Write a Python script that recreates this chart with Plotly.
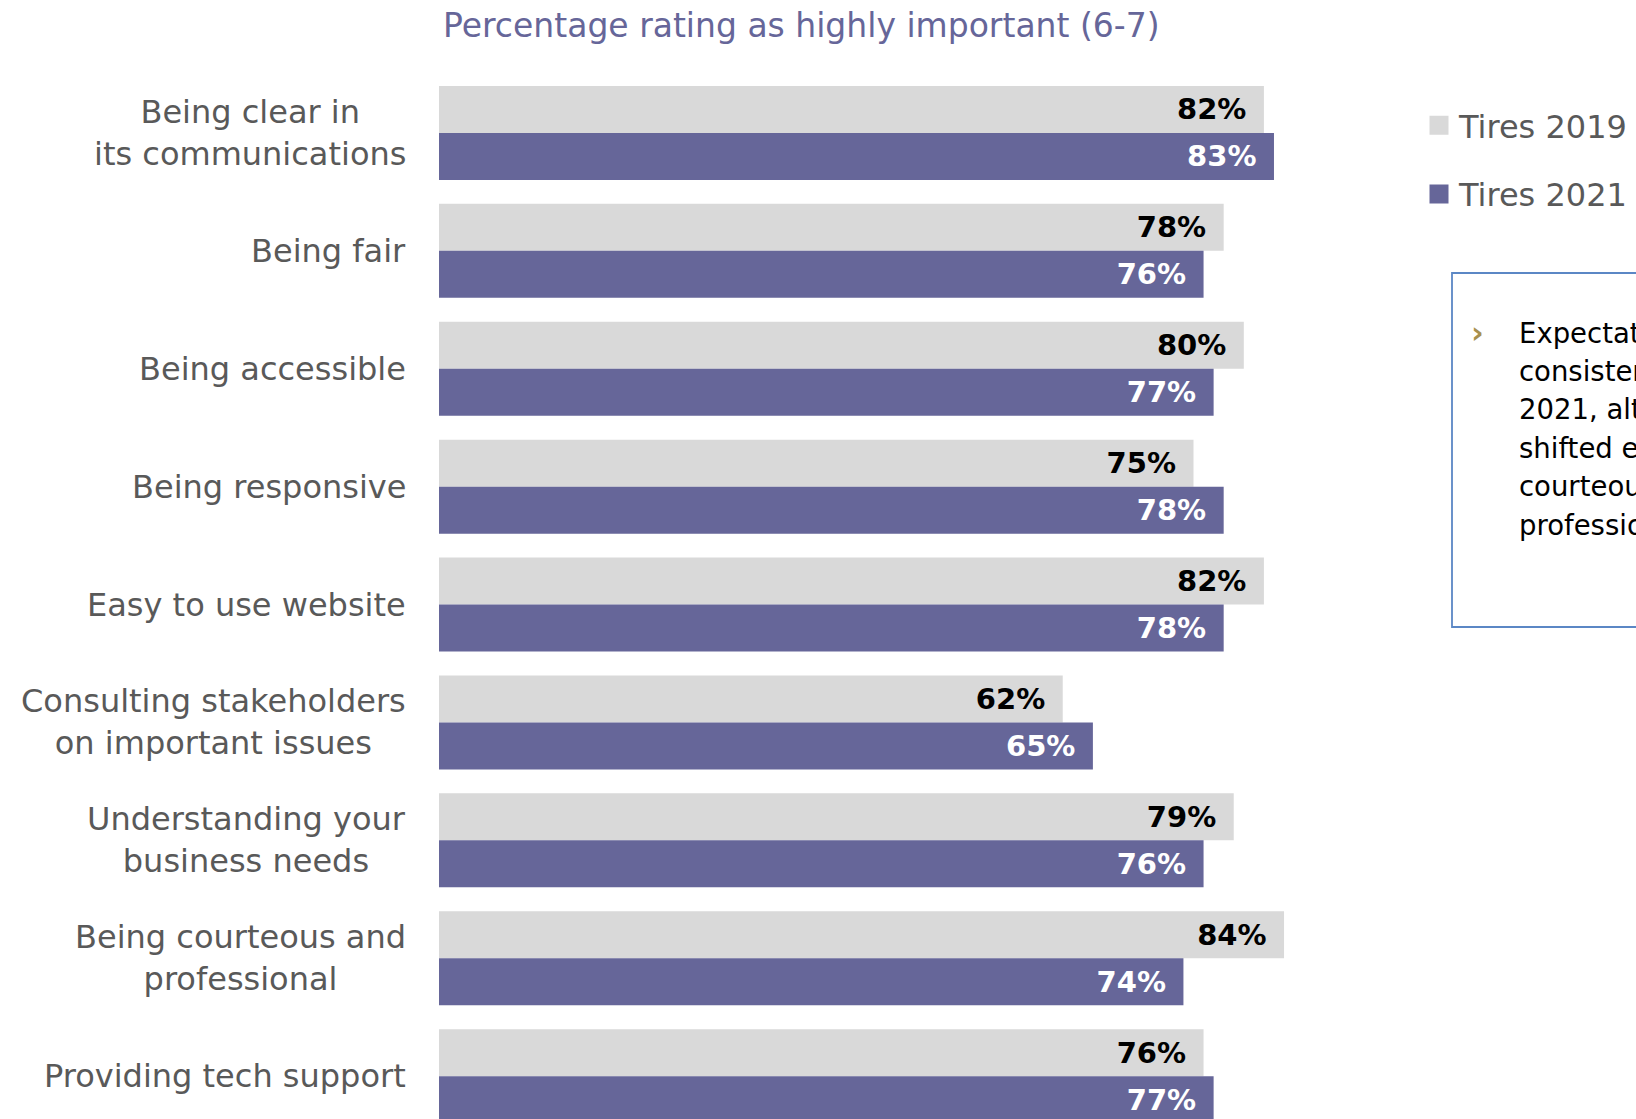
import plotly.graph_objects as go

# ---- data -------------------------------------------------------------
categories = [
    "Being clear in<br>its communications",
    "Being fair",
    "Being accessible",
    "Being responsive",
    "Easy to use website",
    "Consulting stakeholders<br>on important issues",
    "Understanding your<br>business needs",
    "Being courteous and<br>professional",
    "Providing tech support",
]
tires_2019 = [82, 78, 80, 75, 82, 62, 79, 84, 76]
tires_2021 = [83, 76, 77, 78, 78, 65, 76, 74, 77]
series_names = ["Tires 2019", "Tires 2021"]

note_lines = [
    "Expectations for service remained",
    "consistent between 2019 and",
    "2021, although priorities have",
    "shifted emphasis toward being",
    "courteous and",
    "professional.",
]

# ---- styling ----------------------------------------------------------
W, H = 1636, 1119
ML, MR, MT, MB = 439, 191, 74, 0
PLOT_W, PLOT_H = W - ML - MR, H - MT - MB
FONT = "DejaVu Sans"
GREY_BAR = "#d9d9d9"
PURPLE = "#666699"
LABEL_GREY = "#595959"
GROUP_STEP = 117.9  # px per category


def px_x(px):
    return (px - ML) / PLOT_W


def px_y(py):
    return 1 - (py - MT) / PLOT_H


fig = go.Figure()

bar_fills = [GREY_BAR, PURPLE]
text_colours = ["black", "white"]
for name, values, fill, tcol in zip(series_names, [tires_2019, tires_2021],
                                    bar_fills, text_colours):
    fig.add_trace(go.Bar(
        y=categories,
        x=values,
        orientation="h",
        name=name,
        legendgroup=name,
        showlegend=False,
        marker=dict(color=fill, line=dict(width=0)),
        texttemplate="%{x}%\u2002",
        textposition="inside",
        insidetextanchor="end",
        textangle=0,
        constraintext="none",
        insidetextfont=dict(family=FONT, size=29, color=tcol, weight="bold"),
        hoverinfo="skip",
    ))
    # larger square swatch for the legend entry
    fig.add_trace(go.Scatter(
        x=[None], y=[None],
        mode="markers",
        name=name,
        legendgroup=name,
        marker=dict(symbol="square", size=16, color=fill,
                    line=dict(color=fill, width=3)),
        hoverinfo="skip",
    ))

# category labels, centred line by line, right edge next to the bars
annotations = []
for cat in categories:
    annotations.append(dict(
        text=cat, xref="paper", yref="y", x=px_x(408), y=cat,
        xanchor="right", yanchor="middle", align="center", showarrow=False,
        font=dict(family=FONT, size=32, color=LABEL_GREY),
    ))

# commentary box
note_top = 332.5
note_step = 38.4
annotations.append(dict(
    text="\u203a", xref="paper", yref="paper", x=px_x(1469), y=px_y(note_top - 1),
    xanchor="left", yanchor="middle", showarrow=False,
    font=dict(family=FONT, size=31, color="#a8904e", weight="bold"),
))
for i, line in enumerate(note_lines):
    annotations.append(dict(
        text=line, xref="paper", yref="paper",
        x=px_x(1517), y=px_y(note_top + i * note_step),
        xanchor="left", yanchor="middle", align="left", showarrow=False,
        font=dict(family=FONT, size=27.5, color="black"),
    ))

shapes = [dict(
    type="rect", xref="paper", yref="paper",
    x0=px_x(1452), x1=px_x(1760), y0=px_y(627), y1=px_y(273),
    line=dict(color="#5b87c5", width=1.8), fillcolor="rgba(0,0,0,0)",
)]

fig.update_layout(
    width=W, height=H,
    margin=dict(l=ML, r=MR, t=MT, b=MB, pad=0),
    paper_bgcolor="white", plot_bgcolor="white",
    barmode="group", bargap=0.203, bargroupgap=0,
    font=dict(family=FONT, color=LABEL_GREY),
    title=dict(
        text="Percentage rating as highly important (6-7)",
        xref="paper", x=px_x(443), xanchor="left",
        yref="container", y=1 - 25 / H, yanchor="middle",
        font=dict(family=FONT, size=33, color=PURPLE),
    ),
    xaxis=dict(range=[0, 100], visible=False, fixedrange=True),
    yaxis=dict(
        range=[-0.5 + PLOT_H / GROUP_STEP, -0.5],
        showticklabels=False, showgrid=False, zeroline=False,
        showline=False, ticks="", fixedrange=True,
    ),
    legend=dict(
        x=px_x(1419), xanchor="left", y=px_y(98), yanchor="top",
        font=dict(family=FONT, size=32, color=LABEL_GREY),
        tracegroupgap=24, bgcolor="rgba(0,0,0,0)", borderwidth=0,
        itemclick=False, itemdoubleclick=False,
    ),
    annotations=annotations,
    shapes=shapes,
    showlegend=True,
)

fig.write_html("out.html")
